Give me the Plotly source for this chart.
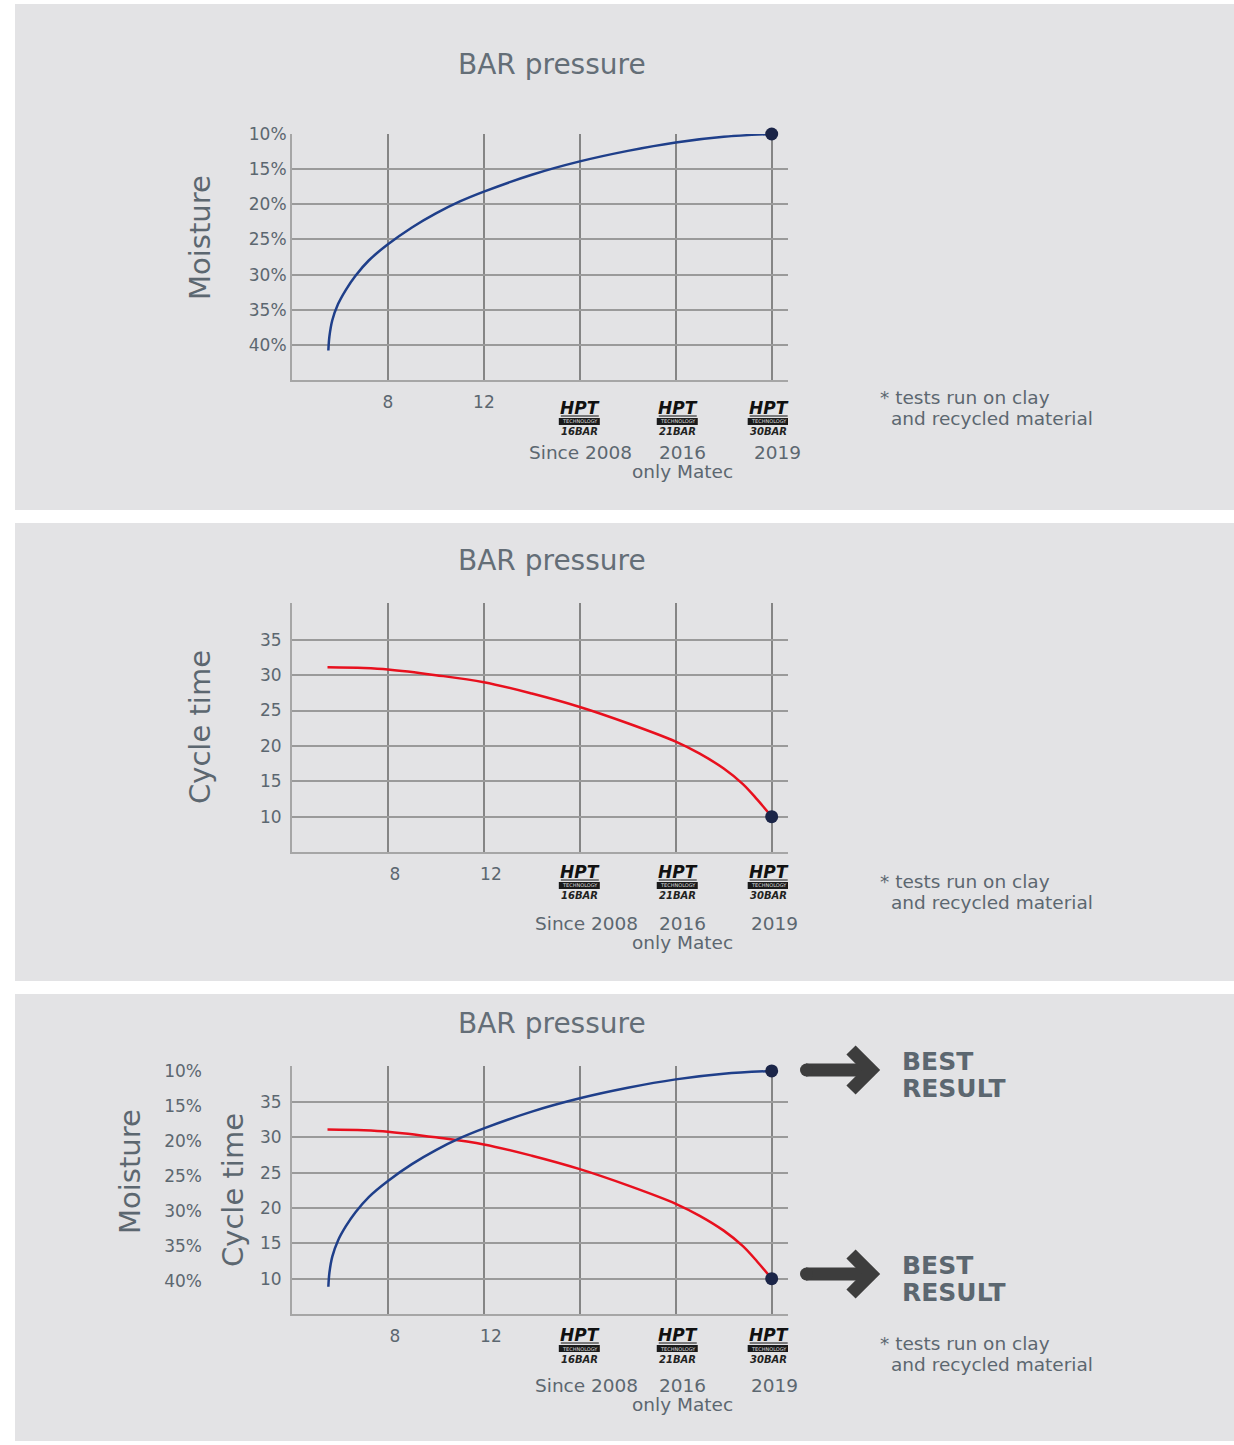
import plotly.graph_objects as go

W, H = 1234, 1445

# data ---------------------------------------------------------------
x_ticks = [1, 2, 3, 4, 5]
x_tick_labels = ["8", "12", "", "", ""]
hpt_bars = ["16BAR", "21BAR", "30BAR"]
hpt_x = [3, 4, 5]
year_labels = ["Since 2008", "2016", "2019"]
matec_label = "only Matec"

moisture_ticks = [10, 15, 20, 25, 30, 35, 40]
moisture_labels = ["10%", "15%", "20%", "25%", "30%", "35%", "40%"]
cycle_ticks = [10, 15, 20, 25, 30, 35]
cycle_labels = ["10", "15", "20", "25", "30", "35"]

moisture_x = [0.379, 0.39, 0.42, 0.48, 0.56, 0.66, 0.8, 1.0, 1.25, 1.5, 1.75, 2.0,
              2.5, 3.0, 3.5, 4.0, 4.5, 5.0]
moisture_y = [40.8, 38.8, 36.5, 34.2, 32.2, 30.2, 28.0, 25.7, 23.3, 21.3, 19.6, 18.2,
              15.8, 13.9, 12.4, 11.2, 10.4, 10.0]

cycle_x = [0.37, 0.75, 1.0, 1.5, 2.0, 2.5, 3.0, 3.5, 4.0, 4.25, 4.5, 4.7, 4.85, 5.0]
cycle_y = [31.1, 31.0, 30.8, 30.0, 29.0, 27.4, 25.5, 23.2, 20.6, 18.9, 16.8, 14.6, 12.4, 10.0]

best_x = 5
best_moisture = 10
best_cycle = 10

# styling ------------------------------------------------------------
FONT = "DejaVu Sans"
TXT = "#5c6770"
PANEL = "#e3e3e5"
GRID_V = "#858585"
GRID_H = "#9a9a9a"
AXLINE = "#a6a6a6"
BLUE = "#1f3f8a"
RED = "#e8101e"
DOT = "#1b2548"
ARROW = "#3d3d3d"


def px(x):
    return x / W


def py(y):
    return 1 - y / H


fig = go.Figure()

panels = [(4, 510), (523, 981), (994, 1441)]
for top, bot in panels:
    fig.add_shape(type="rect", xref="paper", yref="paper", x0=px(15), x1=1,
                  y0=py(bot), y1=py(top), fillcolor=PANEL, line_width=0, layer="below")

x_common = dict(range=[0, 5.17], tickvals=x_ticks, ticktext=x_tick_labels, showgrid=True,
                gridcolor=GRID_V, gridwidth=1.5, showline=True, linecolor=AXLINE, linewidth=2,
                zeroline=False, ticks="", ticklabelstandoff=6, automargin=False,
                tickfont=dict(family=FONT, size=17, color=TXT))
y_common = dict(showgrid=True, gridcolor=GRID_H, gridwidth=1.5, showline=True, linecolor=AXLINE,
                linewidth=2, zeroline=False, ticks="", automargin=False,
                tickfont=dict(family=FONT, size=17, color=TXT))

fig.update_layout(
    # panel 1: moisture
    xaxis=dict(x_common, domain=[px(292), px(788)], anchor="y"),
    yaxis=dict(y_common, domain=[py(380), py(134)], anchor="x", range=[45, 10],
               tickvals=moisture_ticks, ticktext=moisture_labels, ticklabelstandoff=0),
    # panel 2: cycle time
    xaxis2=dict(x_common, domain=[px(292), px(788)], anchor="y2", ticklabelshift=7),
    yaxis2=dict(y_common, domain=[py(852), py(603)], anchor="x2", range=[5, 40.2],
                tickvals=cycle_ticks, ticktext=cycle_labels, ticklabelstandoff=5),
    # panel 3: combined
    xaxis3=dict(x_common, domain=[px(292), px(788)], anchor="y3", ticklabelshift=7),
    yaxis3=dict(y_common, domain=[py(1314), py(1066)], anchor="x3", range=[5, 40.1],
                tickvals=cycle_ticks + [40], ticktext=cycle_labels + [""], ticklabelstandoff=5),
    yaxis4=dict(overlaying="y3", anchor="free", position=px(202), side="left",
                range=[44.7, 9.29], tickvals=moisture_ticks, ticktext=moisture_labels,
                showgrid=False, showline=False, zeroline=False, ticks="", automargin=False,
                tickfont=dict(family=FONT, size=17, color=TXT)),
)

line_kw = dict(mode="lines", line_shape="spline", showlegend=False, hoverinfo="skip")
fig.add_trace(go.Scatter(x=moisture_x, y=moisture_y, line=dict(color=BLUE, width=2.5),
                         xaxis="x", yaxis="y", **line_kw))
fig.add_trace(go.Scatter(x=cycle_x, y=cycle_y, line=dict(color=RED, width=2.5),
                         xaxis="x2", yaxis="y2", **line_kw))
fig.add_trace(go.Scatter(x=cycle_x, y=cycle_y, line=dict(color=RED, width=2.5),
                         xaxis="x3", yaxis="y3", **line_kw))
fig.add_trace(go.Scatter(x=moisture_x, y=moisture_y, line=dict(color=BLUE, width=2.5),
                         xaxis="x3", yaxis="y4", **line_kw))

dot_kw = dict(mode="markers", marker=dict(size=13, color=DOT), showlegend=False,
              hoverinfo="skip", cliponaxis=False)
fig.add_trace(go.Scatter(x=[best_x], y=[best_moisture], xaxis="x", yaxis="y", **dot_kw))
fig.add_trace(go.Scatter(x=[best_x], y=[best_cycle], xaxis="x2", yaxis="y2", **dot_kw))
fig.add_trace(go.Scatter(x=[best_x], y=[best_cycle], xaxis="x3", yaxis="y3", **dot_kw))
fig.add_trace(go.Scatter(x=[best_x], y=[best_moisture], xaxis="x3", yaxis="y4", **dot_kw))


def text(x, y, s, size=17, color=TXT, xref="paper", xanchor="center", xshift=0, angle=0):
    fig.add_annotation(x=x, y=y, xref=xref, yref="paper", text=s, showarrow=False,
                       xanchor=xanchor, yanchor="middle", xshift=xshift, textangle=angle,
                       font=dict(family=FONT, size=size, color=color))


def add_logo(xref, xval, y_px, bar, xshift):
    # small HPT technology badge
    text(xval, py(y_px), "<b><i>HPT</i></b>", size=17, color="#111111", xref=xref, xshift=xshift)
    fig.add_shape(type="line", xref=xref, yref="paper", xsizemode="pixel", xanchor=xval,
                  x0=-19 + xshift, x1=19 + xshift, y0=py(y_px + 8), y1=py(y_px + 8),
                  line=dict(color="#111111", width=1))
    fig.add_shape(type="rect", xref=xref, yref="paper", xsizemode="pixel", xanchor=xval,
                  x0=-21 + xshift, x1=20 + xshift, y0=py(y_px + 17), y1=py(y_px + 10),
                  fillcolor="#1a1a1a", line_width=0)
    text(xval, py(y_px + 13.5), "TECHNOLOGY", size=5, color="#dddddd", xref=xref, xshift=xshift)
    text(xval, py(y_px + 24), "<b><i>" + bar + "</i></b>", size=10, color="#222222",
         xref=xref, xshift=xshift)


def bottom_labels(xref, logo_y, year_y, year_shift):
    for xv, bar, ls in zip(hpt_x, hpt_bars, [0, 2, -3]):
        add_logo(xref, xv, logo_y, bar, ls)
    for xv, lab, sh in zip(hpt_x, year_labels, year_shift):
        text(xv, py(year_y), lab, size=18.5, xref=xref, xshift=sh)
    text(hpt_x[1], py(year_y + 19), matec_label, size=18.5, xref=xref, xshift=7)


def footnote(y_px):
    text(px(878), py(y_px), "* tests run on clay", size=18.5, xanchor="left")
    text(px(889), py(y_px + 21), "and recycled material", size=18.5, xanchor="left")


# panel 1
text(px(552), py(64), "BAR pressure", size=28, color="#646e77")
text(px(200), py(238), "Moisture", size=29, angle=-90)
bottom_labels("x", 408, 452, [1, 7, 6])
footnote(397)

# panel 2
text(px(552), py(561), "BAR pressure", size=28, color="#646e77")
text(px(200), py(727), "Cycle time", size=29, angle=-90)
bottom_labels("x2", 872, 923, [7, 7, 3])
footnote(881)

# panel 3
text(px(552), py(1023), "BAR pressure", size=28, color="#646e77")
text(px(130), py(1172), "Moisture", size=29, angle=-90)
text(px(233), py(1190), "Cycle time", size=29, angle=-90)
bottom_labels("x3", 1335, 1385, [7, 7, 3])
footnote(1343)


def best_arrow(yc):
    # thick rounded arrow pointing to the best result
    fig.add_shape(type="line", xref="paper", yref="paper", x0=px(806), x1=px(866),
                  y0=py(yc), y1=py(yc), line=dict(color=ARROW, width=13))
    fig.add_shape(type="circle", xref="paper", yref="paper", x0=px(800), x1=px(813),
                  y0=py(yc + 6.5), y1=py(yc - 6.5), fillcolor=ARROW, line_width=0)
    path = "M {} {} L {} {} L {} {}".format(px(851), py(yc - 20), px(871), py(yc),
                                           px(851), py(yc + 20))
    fig.add_shape(type="path", xref="paper", yref="paper", path=path,
                  line=dict(color=ARROW, width=13))
    text(px(900), py(yc - 9), "<b>BEST</b>", size=25, xanchor="left")
    text(px(900), py(yc + 18), "<b>RESULT</b>", size=25, xanchor="left")


best_arrow(1070)
best_arrow(1274)

fig.update_layout(
    width=W, height=H,
    margin=dict(l=0, r=0, t=0, b=0, autoexpand=False),
    paper_bgcolor="white",
    plot_bgcolor="rgba(0,0,0,0)",
    showlegend=False,
)

fig.write_html("out.html", config={"displayModeBar": False},
               post_script="document.body.style.margin='0';")
